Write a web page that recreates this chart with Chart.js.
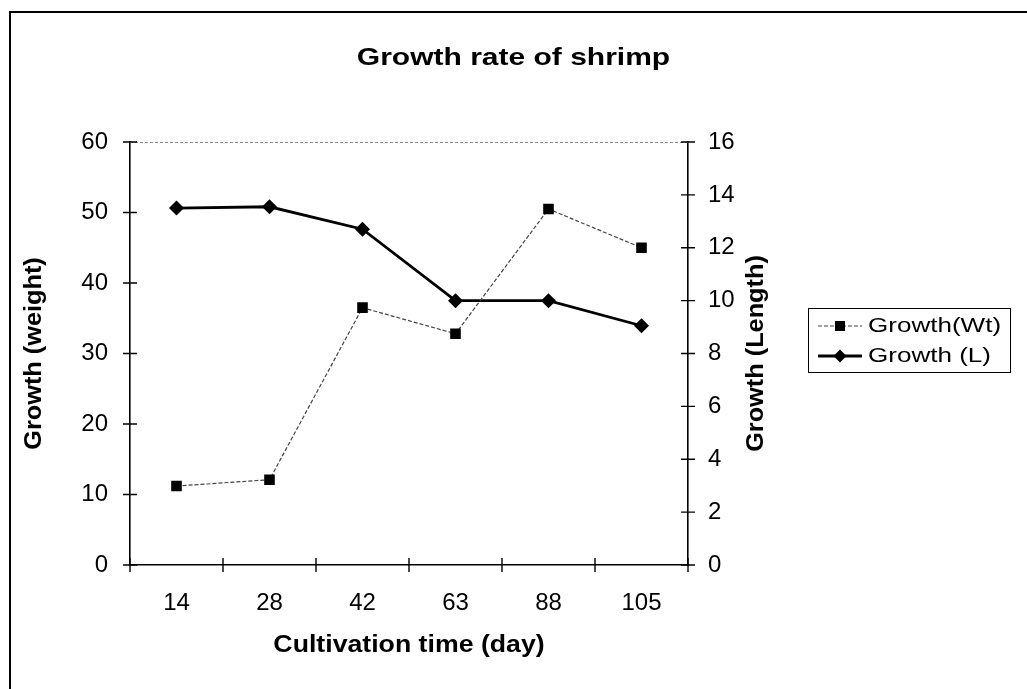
<!DOCTYPE html>
<html>
<head>
<meta charset="utf-8">
<title>Growth rate of shrimp</title>
<script src="https://cdn.jsdelivr.net/npm/chart.js@4/dist/chart.umd.min.js"></script>
<style>
  html, body { margin: 0; padding: 0; background: #fff; }
  #wrap { width: 1027px; height: 689px; position: relative; }
</style>
</head>
<body>
<div id="wrap"><canvas id="chart" width="1027" height="689"></canvas></div>
<script>
// Cultivation days (categories)
const days = ['14', '28', '42', '63', '88', '105'];
// Growth by weight (left axis)
const weightGrowth = [11.2, 12.1, 36.5, 32.8, 50.5, 45.0];
// Growth by length (right axis)
const lengthGrowth = [13.5, 13.55, 12.7, 10.0, 10.0, 9.05];
// Axis ranges: [min, max, step]
const weightAxis = [0, 60, 10];
const lengthAxis = [0, 16, 2];
// Text
const chartTitle = 'Growth rate of shrimp';
const xTitle = 'Cultivation time (day)';
const leftTitle = 'Growth (weight)';
const rightTitle = 'Growth (Length)';
const seriesNames = ['Growth(Wt)', 'Growth (L)'];

const FONT = '"Liberation Sans", Arial, sans-serif';

// Draws text widened horizontally (along its own direction)
function wideText(ctx, text, x, y, font, sx, rot, align) {
  ctx.save();
  ctx.translate(x, y);
  if (rot) ctx.rotate(rot);
  ctx.scale(sx, 1);
  ctx.font = font;
  ctx.fillStyle = '#000';
  ctx.textAlign = align || 'center';
  ctx.textBaseline = 'middle';
  ctx.fillText(text, 0, 0);
  ctx.restore();
}

function marker(ctx, style, x, y) {
  ctx.save();
  ctx.fillStyle = '#000';
  ctx.beginPath();
  if (style === 'rect') {
    ctx.rect(x - 5, y - 5, 10, 10);
  } else {
    ctx.moveTo(x, y - 6.5); ctx.lineTo(x + 6.5, y);
    ctx.lineTo(x, y + 6.5); ctx.lineTo(x - 6.5, y);
    ctx.closePath();
  }
  ctx.fill();
  ctx.restore();
}

// Tick marks that cross the axis lines, plus the plot-area top edge
const axisDecor = {
  id: 'axisDecor',
  beforeDatasetsDraw(chart) {
    const ctx = chart.ctx;
    const a = chart.chartArea;
    const xs = chart.scales.x, ys = chart.scales.y, y2 = chart.scales.y2;
    ctx.save();
    // top edge of plot area
    ctx.strokeStyle = '#8a8a8a';
    ctx.lineWidth = 1;
    ctx.setLineDash([3, 2]);
    ctx.beginPath();
    ctx.moveTo(a.left, a.top + 0.5); ctx.lineTo(a.right, a.top + 0.5);
    ctx.stroke();
    ctx.setLineDash([]);
    ctx.strokeStyle = '#000';
    ctx.lineWidth = 1.4;
    ctx.beginPath();
    ys.ticks.forEach(t => {
      const p = ys.getPixelForValue(t.value);
      ctx.moveTo(a.left - 7, p); ctx.lineTo(a.left + 7, p);
    });
    y2.ticks.forEach(t => {
      const p = y2.getPixelForValue(t.value);
      ctx.moveTo(a.right - 7, p); ctx.lineTo(a.right + 7, p);
    });
    for (let i = 0; i <= days.length; i++) {
      const p = xs.getPixelForValue(i - 0.5);
      ctx.moveTo(p, a.bottom - 7); ctx.lineTo(p, a.bottom + 7);
    }
    ctx.stroke();
    ctx.restore();
  },
  afterDraw(chart) {
    const ctx = chart.ctx;
    const a = chart.chartArea;
    // outer frame
    ctx.save();
    ctx.strokeStyle = '#000';
    ctx.lineWidth = 2;
    ctx.beginPath();
    ctx.moveTo(10, 689); ctx.lineTo(10, 12); ctx.lineTo(1027, 12);
    ctx.stroke();
    ctx.restore();

    // titles
    wideText(ctx, chartTitle, chart.width / 2, 58, 'bold 24px ' + FONT, 1.25);
    wideText(ctx, xTitle, (a.left + a.right) / 2, 646, 'bold 23px ' + FONT, 1.16);
    const midY = (a.top + a.bottom) / 2;
    wideText(ctx, leftTitle, 35, midY, 'bold 23px ' + FONT, 1.1, -Math.PI / 2);
    wideText(ctx, rightTitle, 757, midY, 'bold 23px ' + FONT, 1.1, -Math.PI / 2);

    // legend
    const lx = 808, ly = 308, lw = 202, lh = 64;
    ctx.save();
    ctx.strokeStyle = '#000';
    ctx.lineWidth = 1;
    ctx.strokeRect(lx + 0.5, ly + 0.5, lw, lh);
    const ds = chart.data.datasets;
    const rows = [ly + 18, ly + 48];
    ds.forEach((d, i) => {
      const ry = rows[i];
      ctx.save();
      ctx.strokeStyle = d.borderColor;
      ctx.lineWidth = d.borderWidth;
      ctx.setLineDash(d.borderDash || []);
      ctx.beginPath();
      ctx.moveTo(lx + 10, ry); ctx.lineTo(lx + 54, ry);
      ctx.stroke();
      ctx.restore();
      marker(ctx, d.pointStyle, lx + 32, ry);
      wideText(ctx, d.label, lx + 60, ry, '21px ' + FONT, 1.24, 0, 'left');
    });
    ctx.restore();
  }
};

const tickFont = { family: FONT, size: 24 };

new Chart(document.getElementById('chart'), {
  type: 'line',
  data: {
    labels: days,
    datasets: [
      {
        label: seriesNames[0],
        data: weightGrowth,
        yAxisID: 'y',
        borderColor: '#444',
        borderWidth: 1.2,
        borderDash: [4, 2],
        pointStyle: 'rect',
        pointRadius: 7.5,
        pointBackgroundColor: '#000',
        pointBorderColor: '#000',
        pointBorderWidth: 0,
        tension: 0,
        fill: false
      },
      {
        label: seriesNames[1],
        data: lengthGrowth,
        yAxisID: 'y2',
        borderColor: '#000',
        borderWidth: 2.8,
        pointStyle: 'rectRot',
        pointRadius: 7.5,
        pointBackgroundColor: '#000',
        pointBorderColor: '#000',
        pointBorderWidth: 0,
        tension: 0,
        fill: false
      }
    ]
  },
  options: {
    responsive: false,
    animation: false,
    devicePixelRatio: 1,
    layout: { padding: { top: 142, left: 0, right: 239, bottom: 0 } },
    plugins: {
      legend: { display: false },
      title: { display: false },
      tooltip: { enabled: false }
    },
    scales: {
      x: {
        type: 'category',
        offset: true,
        grid: { display: false, drawTicks: false },
        border: { display: true, color: '#000', width: 1.6 },
        ticks: { font: tickFont, color: '#000', padding: 24, maxRotation: 0, autoSkip: false },
        afterFit(s) { s.height = 124; }
      },
      y: {
        position: 'left',
        min: weightAxis[0], max: weightAxis[1],
        grid: { display: false, drawTicks: false },
        border: { display: true, color: '#000', width: 1.6 },
        ticks: { stepSize: weightAxis[2], font: tickFont, color: '#000', padding: 22 },
        afterFit(s) { s.width = 130; }
      },
      y2: {
        position: 'right',
        min: lengthAxis[0], max: lengthAxis[1],
        grid: { display: false, drawTicks: false },
        border: { display: true, color: '#000', width: 1.6 },
        ticks: { stepSize: lengthAxis[2], font: tickFont, color: '#000', padding: 20 },
        afterFit(s) { s.width = 100; }
      }
    }
  },
  plugins: [axisDecor]
});
</script>
</body>
</html>
